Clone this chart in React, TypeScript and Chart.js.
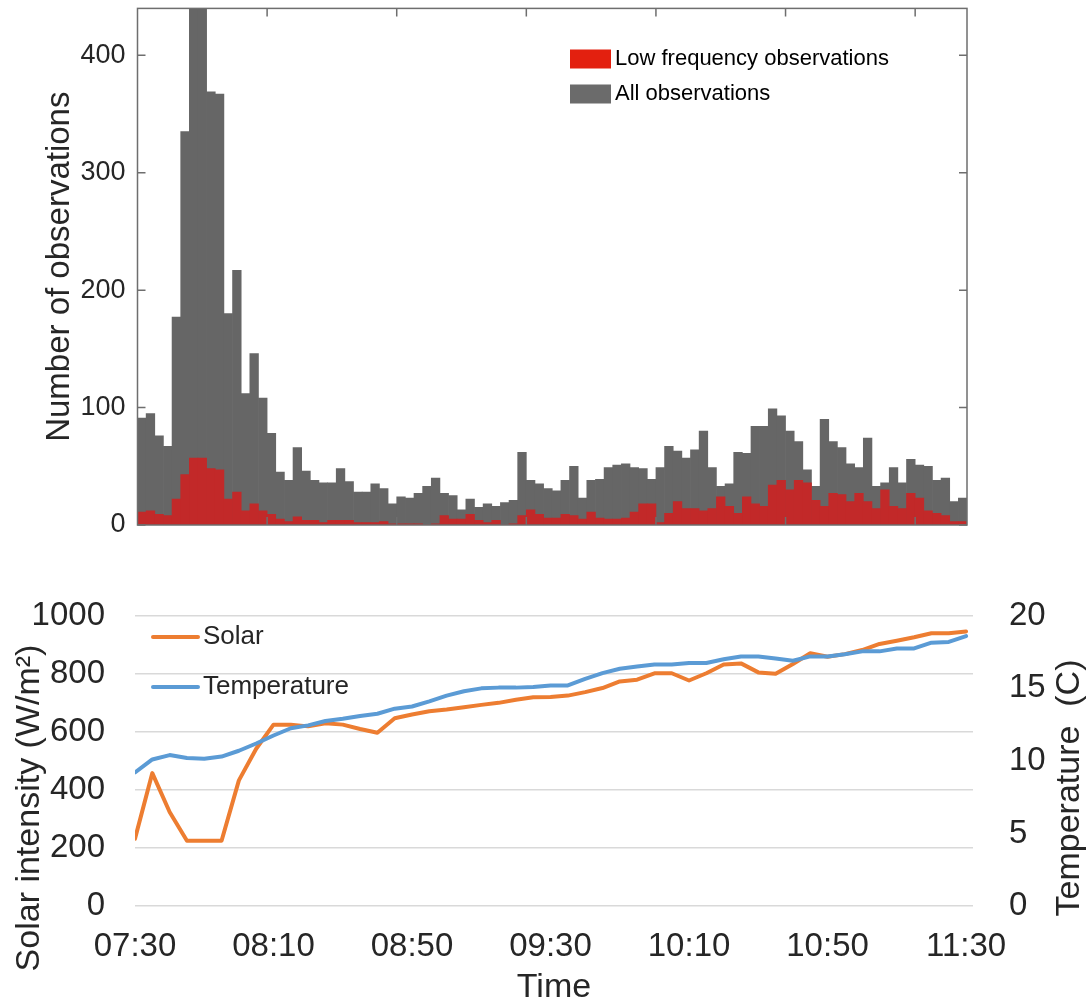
import React, { useEffect, useRef } from "react";
import { Chart, registerables } from "chart.js";

Chart.register(...registerables);

const FONT = "'Liberation Sans', Arial, Helvetica, sans-serif";
const TEXT = "#262626";

// ---------- top panel: histogram of observations (2.5-minute bins, 07:30 - 11:30) ----------
const allObservations = [
  91, 95, 76, 67, 177, 335, 440, 440, 369, 367, 180, 217, 112, 146, 108, 78,
  45, 38, 66, 46, 38, 36, 36, 48, 37, 28, 28, 35, 31, 18, 24, 23,
  27, 33, 40, 27, 25, 13, 22, 15, 18, 16, 19, 21, 62, 38, 35, 31,
  29, 38, 50, 23, 38, 39, 49, 51, 52, 49, 48, 39, 49, 67, 63, 57,
  64, 80, 49, 33, 35, 62, 61, 84, 84, 99, 93, 80, 71, 47, 33, 90,
  71, 66, 52, 49, 74, 33, 36, 49, 36, 56, 51, 50, 38, 40, 20, 23,
];
const lowFrequencyObservations = [
  11, 12, 9, 8, 22, 43, 57, 57, 48, 47, 22, 28, 12, 18, 12, 9,
  5, 3, 7, 4, 4, 2, 4, 4, 4, 2, 2, 2, 3, 1, 1, 1,
  1, 0, 1, 8, 5, 5, 9, 4, 2, 4, 0, 1, 8, 13, 9, 6,
  6, 9, 8, 5, 11, 6, 5, 5, 6, 11, 18, 18, 2, 10, 20, 14,
  14, 12, 14, 24, 16, 10, 24, 18, 16, 34, 38, 30, 38, 36, 21, 16,
  27, 26, 20, 27, 20, 14, 30, 16, 14, 27, 23, 12, 10, 8, 3, 3,
];
const histYTicks = [0, 100, 200, 300, 400];
const histTickBins = [15, 30, 45, 60, 75, 90];
const histBinLabels = allObservations.map((_, i) => {
  const sec = 7 * 3600 + 30 * 60 + i * 150;
  const h = Math.floor(sec / 3600);
  const m = Math.floor((sec % 3600) / 60);
  const s = sec % 60;
  return `${String(h).padStart(2, "0")}:${String(m).padStart(2, "0")}:${String(s).padStart(2, "0")}`;
});

// ---------- bottom panel: solar intensity and temperature (5-minute steps) ----------
const times = [
  "07:30", "07:35", "07:40", "07:45", "07:50", "07:55", "08:00", "08:05",
  "08:10", "08:15", "08:20", "08:25", "08:30", "08:35", "08:40", "08:45",
  "08:50", "08:55", "09:00", "09:05", "09:10", "09:15", "09:20", "09:25",
  "09:30", "09:35", "09:40", "09:45", "09:50", "09:55", "10:00", "10:05",
  "10:10", "10:15", "10:20", "10:25", "10:30", "10:35", "10:40", "10:45",
  "10:50", "10:55", "11:00", "11:05", "11:10", "11:15", "11:20", "11:25",
  "11:30",
];
const solar = [
  232, 458, 324, 225, 225, 225, 433, 542, 625, 625, 619, 630, 625, 610, 597, 647,
  660, 671, 677, 685, 693, 700, 711, 719, 720, 725, 737, 751, 774, 780, 802, 802,
  777, 802, 832, 836, 805, 800, 834, 871, 859, 868, 882, 903, 914, 926, 940, 940,
  946,
];
const temperature = [
  9.2, 10.1, 10.4, 10.2, 10.15, 10.3, 10.7, 11.2, 11.75, 12.25, 12.45, 12.75, 12.9, 13.1, 13.25, 13.6,
  13.75, 14.1, 14.5, 14.8, 15.0, 15.05, 15.05, 15.1, 15.2, 15.2, 15.65, 16.05, 16.35, 16.5, 16.65, 16.65,
  16.75, 16.75, 17.0, 17.2, 17.2, 17.05, 16.9, 17.2, 17.2, 17.35, 17.55, 17.55, 17.75, 17.75, 18.15, 18.2,
  18.6,
];
const timeTickIndex = [0, 8, 16, 24, 32, 40, 48];
const solarTicks = [0, 200, 400, 600, 800, 1000];
const tempTicks = [0, 5, 10, 15, 20];

const RED_BAR = "#C22929";
const GRAY_BAR = "#666666";
const RED_SWATCH = "#E3200F";
const GRAY_SWATCH = "#6B6B6B";
const ORANGE = "#ED7D31";
const BLUE = "#5B9BD5";

export default function App() {
  const topRef = useRef<HTMLCanvasElement | null>(null);
  const botRef = useRef<HTMLCanvasElement | null>(null);

  useEffect(() => {
    Chart.defaults.font.family = FONT;
    Chart.defaults.color = TEXT;

    const histFrame = {
      id: "histFrame",
      afterDatasetsDraw(chart: any) {
        const { ctx, chartArea: a, scales } = chart;
        const x = scales.x;
        const y = scales.y;
        ctx.save();
        ctx.strokeStyle = "#6e6e6e";
        ctx.lineWidth = 1.5;
        ctx.strokeRect(a.left, a.top, a.right - a.left, a.bottom - a.top);
        const tl = 8;
        ctx.beginPath();
        histYTicks.forEach((v) => {
          const py = y.getPixelForValue(v);
          ctx.moveTo(a.left, py);
          ctx.lineTo(a.left + tl, py);
          ctx.moveTo(a.right, py);
          ctx.lineTo(a.right - tl, py);
        });
        const bw = x.getPixelForValue(1) - x.getPixelForValue(0);
        histTickBins.forEach((b) => {
          const px = x.getPixelForValue(b) - bw / 2;
          ctx.moveTo(px, a.bottom);
          ctx.lineTo(px, a.bottom - tl);
          ctx.moveTo(px, a.top);
          ctx.lineTo(px, a.top + tl);
        });
        ctx.stroke();

        // legend (inside the axes, top right)
        const items = [
          { label: "Low frequency observations", color: RED_SWATCH, y: 59 },
          { label: "All observations", color: GRAY_SWATCH, y: 94 },
        ];
        ctx.font = `22px ${FONT}`;
        ctx.textBaseline = "middle";
        ctx.textAlign = "left";
        items.forEach((it) => {
          ctx.fillStyle = it.color;
          ctx.fillRect(570, it.y - 9.5, 41, 19);
          ctx.fillStyle = "#000000";
          ctx.fillText(it.label, 615, it.y);
        });
        ctx.restore();
      },
    };

    const top = new Chart(topRef.current as HTMLCanvasElement, {
      type: "bar",
      data: {
        labels: histBinLabels,
        datasets: [
          {
            label: "Low frequency observations",
            data: lowFrequencyObservations,
            backgroundColor: RED_BAR,
            borderWidth: 0,
            barPercentage: 1,
            categoryPercentage: 1,
            grouped: false,
            order: 0,
          } as any,
          {
            label: "All observations",
            data: allObservations,
            backgroundColor: GRAY_BAR,
            borderWidth: 0,
            barPercentage: 1,
            categoryPercentage: 1,
            grouped: false,
            order: 1,
          } as any,
        ],
      },
      options: {
        animation: false,
        responsive: false,
        maintainAspectRatio: false,
        layout: { padding: { top: 8.4, right: 124, bottom: 35, left: 0 } },
        plugins: { legend: { display: false }, tooltip: { enabled: false } },
        scales: {
          x: { display: false, grid: { display: false } },
          y: {
            min: 0,
            max: 440,
            afterBuildTicks: (s: any) => {
              s.ticks = histYTicks.map((v) => ({ value: v }));
            },
            afterFit: (s: any) => {
              s.width = 137.5;
              s.paddingTop = 0;
              s.paddingBottom = 0;
            },
            ticks: { font: { size: 27 }, color: TEXT, padding: 12 },
            grid: { display: false, drawTicks: false },
            border: { display: false },
            title: {
              display: true,
              text: "Number of observations",
              font: { size: 33 },
              color: TEXT,
              padding: { top: 40, bottom: 0 },
            },
          },
        },
      },
      plugins: [histFrame],
    } as any);

    const lineExtras = {
      id: "lineExtras",
      afterDraw(chart: any) {
        const { ctx } = chart;
        ctx.save();
        // legend
        const items = [
          { label: "Solar", color: ORANGE, y: 77 },
          { label: "Temperature", color: BLUE, y: 127 },
        ];
        items.forEach((it) => {
          ctx.strokeStyle = it.color;
          ctx.lineWidth = 4;
          ctx.lineCap = "round";
          ctx.beginPath();
          ctx.moveTo(153, it.y);
          ctx.lineTo(198, it.y);
          ctx.stroke();
          ctx.fillStyle = TEXT;
          ctx.font = `26px ${FONT}`;
          ctx.textAlign = "left";
          ctx.textBaseline = "middle";
          ctx.fillText(it.label, 203, it.y);
        });
        // axis titles (both read bottom-to-top)
        ctx.fillStyle = TEXT;
        ctx.textAlign = "center";
        ctx.textBaseline = "middle";
        ctx.save();
        ctx.translate(30, 248);
        ctx.rotate(-Math.PI / 2);
        ctx.font = `34px ${FONT}`;
        ctx.fillText("Solar intensity (W/m²)", 0, 0);
        ctx.restore();
        ctx.save();
        ctx.translate(1070, 228);
        ctx.rotate(-Math.PI / 2);
        ctx.font = `34px ${FONT}`;
        ctx.fillText("Temperature  (C)", 0, 0);
        ctx.restore();
        ctx.restore();
      },
    };

    const bot = new Chart(botRef.current as HTMLCanvasElement, {
      type: "line",
      data: {
        datasets: [
          {
            label: "Solar",
            data: solar.map((v, i) => ({ x: i, y: v })),
            borderColor: ORANGE,
            borderWidth: 4,
            pointRadius: 0,
            tension: 0,
            yAxisID: "y",
            borderJoinStyle: "round",
            borderCapStyle: "round",
            order: 1,
          } as any,
          {
            label: "Temperature",
            data: temperature.map((v, i) => ({ x: i, y: v })),
            borderColor: BLUE,
            borderWidth: 4,
            pointRadius: 0,
            tension: 0,
            yAxisID: "y1",
            borderJoinStyle: "round",
            borderCapStyle: "round",
            order: 0,
          } as any,
        ],
      },
      options: {
        animation: false,
        responsive: false,
        maintainAspectRatio: false,
        layout: { padding: { top: 55, right: 0, bottom: 0, left: 0 } },
        plugins: { legend: { display: false }, tooltip: { enabled: false } },
        scales: {
          x: {
            type: "linear",
            min: 0,
            max: 48.4,
            afterBuildTicks: (s: any) => {
              s.ticks = timeTickIndex.map((v) => ({ value: v }));
            },
            afterFit: (s: any) => {
              s.height = 102;
            },
            ticks: {
              callback: (v: any) => times[v as number],
              font: { size: 33 },
              color: TEXT,
              padding: 21,
              maxRotation: 0,
              autoSkip: false,
            },
            grid: { display: false, drawTicks: false },
            border: { display: false },
            title: {
              display: true,
              text: "Time",
              font: { size: 34 },
              color: TEXT,
              padding: { top: 0, bottom: 0 },
            },
          },
          y: {
            position: "left",
            min: 0,
            max: 1000,
            afterBuildTicks: (s: any) => {
              s.ticks = solarTicks.map((v) => ({ value: v }));
            },
            afterFit: (s: any) => {
              s.width = 135;
            },
            ticks: {
              callback: (v: any) => String(v),
              font: { size: 33 },
              color: TEXT,
              padding: 30,
            },
            grid: { color: "#D9D9D9", lineWidth: 1.5, drawTicks: false },
            border: { display: false },
          },
          y1: {
            position: "right",
            min: 0,
            max: 20,
            afterBuildTicks: (s: any) => {
              s.ticks = tempTicks.map((v) => ({ value: v }));
            },
            afterFit: (s: any) => {
              s.width = 118;
            },
            ticks: {
              callback: (v: any) => String(v),
              font: { size: 33 },
              color: TEXT,
              padding: 36,
            },
            grid: { display: false, drawTicks: false },
            border: { display: false },
          },
        },
      },
      plugins: [lineExtras],
    } as any);

    return () => {
      top.destroy();
      bot.destroy();
    };
  }, []);

  return (
    <div
      style={{
        position: "fixed",
        left: 0,
        top: 0,
        width: 1091,
        height: 1008,
        background: "#ffffff",
        overflow: "hidden",
      }}
    >
      <canvas
        ref={topRef}
        width={1091}
        height={560}
        style={{ position: "absolute", left: 0, top: 0, width: 1091, height: 560 }}
      />
      <canvas
        ref={botRef}
        width={1091}
        height={448}
        style={{ position: "absolute", left: 0, top: 560, width: 1091, height: 448 }}
      />
    </div>
  );
}
